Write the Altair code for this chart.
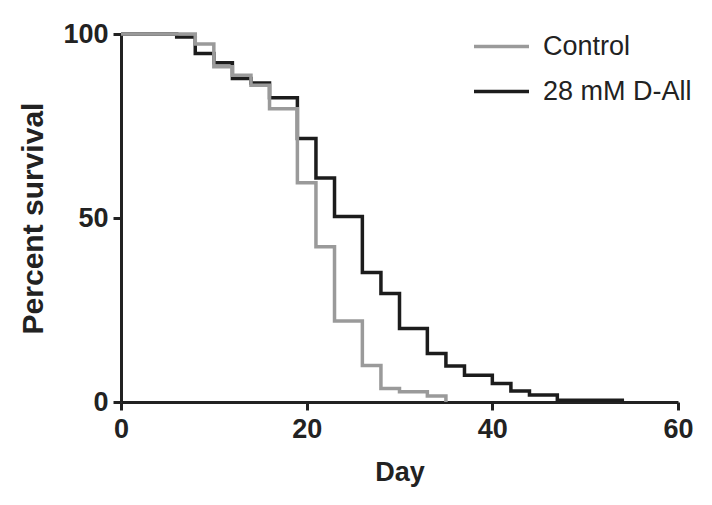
import altair as alt
import pandas as pd

series_names = ["Control", "28 mM D-All"]

control_days = [0, 8, 10, 12, 14, 16, 19, 21, 23, 26, 28, 30, 33, 35]
control_vals = [100, 97.3, 91.1, 88.8, 86.1, 79.7, 59.6, 42.2, 22.0, 9.9, 3.7, 2.8, 1.6, 0]

dall_days = [0, 6, 8, 10, 12, 14, 16, 19, 21, 23, 26, 28, 30, 33, 35, 37, 40, 42, 44, 47, 54]
dall_vals = [100, 99.2, 94.7, 92.2, 87.9, 86.7, 82.7, 71.6, 60.9, 50.4, 35.2, 29.5, 20.0,
             13.2, 9.8, 7.3, 5.0, 3.0, 1.9, 0.5, 0]

x_ticks = [0, 20, 40, 60]
y_ticks = [0, 50, 100]

rows = []
for d, v in zip(dall_days, dall_vals):
    rows.append({"Day": d, "Survival": v, "Group": series_names[1]})
for d, v in zip(control_days, control_vals):
    rows.append({"Day": d, "Survival": v, "Group": series_names[0]})
df = pd.DataFrame(rows)

FONT = "Liberation Sans"
AX = "#222222"

chart = alt.Chart(df).mark_line(interpolate="step-after", strokeWidth=3.5).encode(
    x=alt.X("Day:Q", scale=alt.Scale(domain=[0, 60], nice=False),
            axis=alt.Axis(values=x_ticks, title="Day", grid=False, format="d")),
    y=alt.Y("Survival:Q", scale=alt.Scale(domain=[0, 100], nice=False),
            axis=alt.Axis(values=y_ticks, title="Percent survival", grid=False, format="d")),
    color=alt.Color("Group:N",
                    scale=alt.Scale(domain=series_names, range=["#9a9a9a", "#1c1c1c"]),
                    legend=alt.Legend(title=None, orient="none", legendX=351, legendY=-17,
                                      symbolType="stroke", symbolSize=3025,
                                      symbolStrokeWidth=3.5, labelFontSize=27,
                                      labelFont=FONT, labelColor="#222222",
                                      labelOffset=12, rowPadding=2)),
).properties(
    width=557, height=368,
    autosize=alt.AutoSizeParams(type="none"),
    padding={"left": 113, "top": 26, "right": 26, "bottom": 95},
).configure_view(
    stroke=None
).configure_axis(
    domainColor=AX, domainWidth=3, tickColor=AX, tickWidth=3, tickSize=8,
    labelFont=FONT, labelFontSize=27, labelFontWeight="bold", labelColor=AX,
    labelFlush=False,
    titleFont=FONT, titleFontSize=30, titleFontWeight="bold", titleColor=AX,
).configure_axisX(
    labelPadding=6, titlePadding=17, titleFontSize=27
).configure_axisY(
    labelPadding=5, titlePadding=14
)

chart.save("out.html", embed_options={"renderer": "svg", "actions": False})
